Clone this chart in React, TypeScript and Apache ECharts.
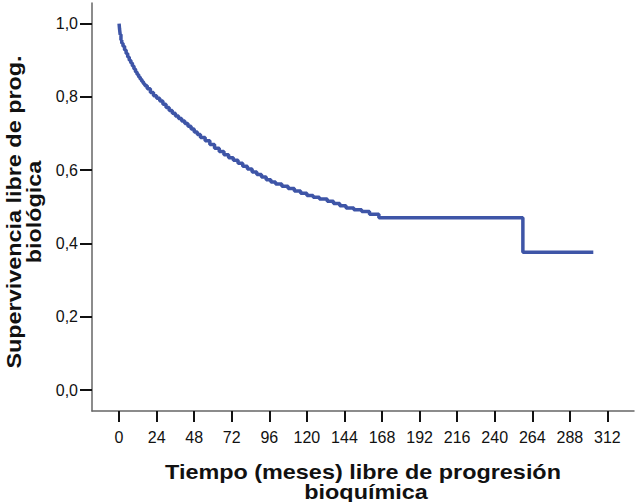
import React, { useEffect, useRef } from "react";
import * as echarts from "echarts";

// Kaplan-Meier estimate: time (months) and survival proportion at each event
const months = [
  0, 0.3, 0.7, 1.2, 1.7, 2.5, 3.5, 4.5, 5.5, 6.5, 7.5, 8.5, 9.5, 10.5, 11.5, 12.5,
  13.5, 14.5, 15.5, 16.5, 18, 20, 22, 24, 26, 28, 30, 32, 34, 36, 38, 40, 42, 44,
  46, 48, 50, 52, 55, 58, 61, 64, 67, 70, 73, 76, 79, 82, 85, 88, 91, 94, 97, 100,
  104, 108, 112, 116, 120, 124, 128, 133, 137, 141, 145, 150, 155, 160, 166, 258, 303,
];
const survival = [
  1.0, 0.985, 0.97, 0.955, 0.946, 0.938, 0.928, 0.918, 0.909, 0.9, 0.892, 0.884,
  0.876, 0.868, 0.861, 0.854, 0.848, 0.842, 0.836, 0.83, 0.822, 0.812, 0.803, 0.796,
  0.789, 0.78, 0.771, 0.763, 0.755, 0.748, 0.741, 0.734, 0.727, 0.72, 0.712, 0.704,
  0.697, 0.689, 0.68, 0.67, 0.66, 0.651, 0.642, 0.634, 0.627, 0.619, 0.611, 0.603,
  0.595, 0.588, 0.581, 0.574, 0.568, 0.562, 0.556, 0.55, 0.543, 0.537, 0.531, 0.526,
  0.521, 0.515, 0.509, 0.503, 0.497, 0.492, 0.487, 0.48, 0.47, 0.376, 0.376,
];

const xTicks = [0, 24, 48, 72, 96, 120, 144, 168, 192, 216, 240, 264, 288, 312];
const yTicks = [0, 0.2, 0.4, 0.6, 0.8, 1.0];

const xTitleLines = ["Tiempo (meses) libre de progresión", "bioquímica"];
const yTitle = "Supervivencia libre de prog.\nbiológica";

const FONT = "'Liberation Sans', Arial, Helvetica, sans-serif";

// Bold titles, slightly widened horizontally
const titleStyle = {
  fontFamily: FONT,
  fontSize: 20,
  fontWeight: "bold",
  fill: "#111111",
  align: "center",
  verticalAlign: "middle",
};
const TITLE_STRETCH = 1.17;

export default function App() {
  const ref = useRef<HTMLDivElement>(null);

  useEffect(() => {
    if (!ref.current) return;
    const chart = echarts.init(ref.current, null, { renderer: "svg" });
    const points = months.map((m, i) => [m, survival[i]]);

    chart.setOption({
      animation: false,
      backgroundColor: "#ffffff",
      textStyle: { fontFamily: FONT },
      grid: { left: 92, right: 1, top: 3, bottom: 91, containLabel: false },
      xAxis: {
        type: "value",
        min: -17.3,
        max: 329,
        axisLine: { onZero: false, lineStyle: { color: "#666666", width: 1.5 } },
        axisTick: {
          show: true,
          length: 11,
          customValues: xTicks,
          lineStyle: { color: "#111111", width: 2 },
        },
        axisLabel: {
          customValues: xTicks,
          margin: 18,
          color: "#111111",
          fontSize: 16,
          fontFamily: FONT,
        },
        splitLine: { show: false },
      },
      yAxis: {
        type: "value",
        min: -0.057,
        max: 1.056,
        axisLine: { show: true, onZero: false, lineStyle: { color: "#666666", width: 1.5 } },
        axisTick: {
          show: true,
          length: 12,
          customValues: yTicks,
          lineStyle: { color: "#111111", width: 2 },
        },
        axisLabel: {
          customValues: yTicks,
          margin: 14,
          color: "#111111",
          fontSize: 16,
          fontFamily: FONT,
          formatter: (v: number) => v.toFixed(1).replace(".", ","),
        },
        splitLine: { show: false },
      },
      series: [
        {
          type: "line",
          step: "end",
          data: points,
          showSymbol: false,
          lineStyle: { color: "#3e55a7", width: 3.5 },
          itemStyle: { color: "#3e55a7" },
        },
      ],
      graphic: [
        {
          type: "text",
          x: 363,
          y: 472,
          scaleX: TITLE_STRETCH,
          style: { ...titleStyle, text: xTitleLines[0] },
        },
        {
          type: "text",
          x: 366,
          y: 492,
          scaleX: TITLE_STRETCH,
          style: { ...titleStyle, text: xTitleLines[1] },
        },
        {
          type: "text",
          x: 24,
          y: 212,
          rotation: Math.PI / 2,
          scaleX: TITLE_STRETCH,
          style: { ...titleStyle, text: yTitle, lineHeight: 20 },
        },
      ],
    });

    return () => chart.dispose();
  }, []);

  return (
    <div
      ref={ref}
      style={{ position: "fixed", left: 0, top: 0, width: 635, height: 502 }}
    />
  );
}
